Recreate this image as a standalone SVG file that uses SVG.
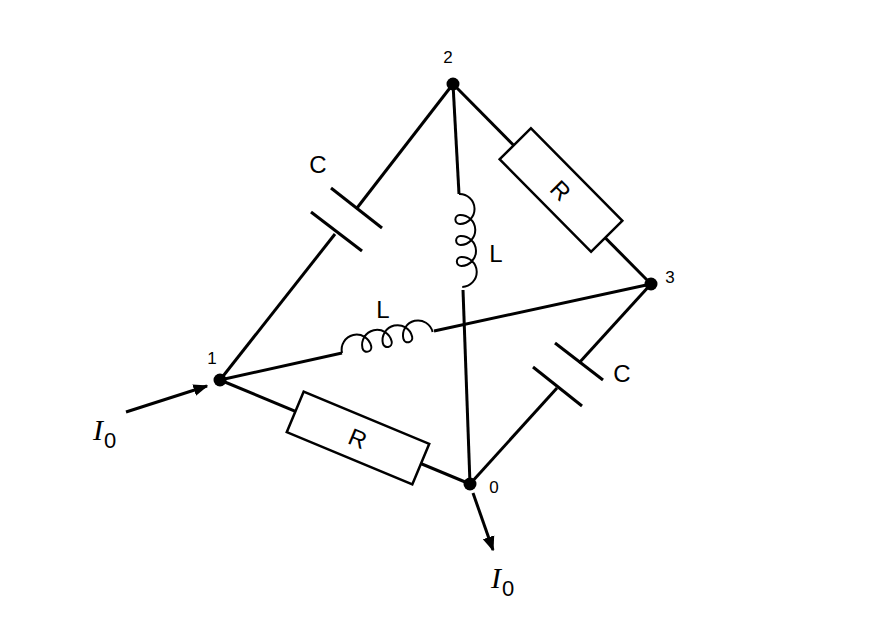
<svg xmlns="http://www.w3.org/2000/svg" width="873" height="626" viewBox="0 0 873 626">
<defs>
<style>
.w{stroke:#000;stroke-width:3;fill:none;stroke-linecap:butt}
.c{stroke:#000;stroke-width:2;fill:none}
.r{stroke:#000;stroke-width:2.5;fill:#fff}
.t{font-family:"Liberation Sans",Arial,sans-serif;fill:#000}
.i{font-family:"Liberation Serif","DejaVu Serif",serif;font-style:italic;fill:#000;font-size:30px}
</style>
<marker id="ah" viewBox="0 0 10 10" refX="9" refY="5" markerWidth="5" markerHeight="5" orient="auto" markerUnits="strokeWidth"><path d="M0,1 L10,5 L0,9 z" fill="#000"/></marker>
<path id="coil" d="M0,0 A15,15 0 0 1 30,0 A4.5,4.5 0 0 1 21,0 A15,15 0 0 1 51,0 A4.5,4.5 0 0 1 42,0 A15,15 0 0 1 72,0 A4.5,4.5 0 0 1 63,0 A15,15 0 0 1 93,0"/>
</defs>
<rect width="873" height="626" fill="#fff"/>
<g id="connectors">
<line class="w" x1="220" y1="380" x2="335" y2="234"/>
<line class="w" x1="357" y1="208" x2="453" y2="84"/>
<line class="w" x1="453" y1="84" x2="459" y2="194"/>
<line class="w" x1="463" y1="290" x2="470" y2="484"/>
<line class="w" x1="220" y1="380" x2="342" y2="353"/>
<line class="w" x1="434" y1="331" x2="651" y2="284"/>
<line class="w" x1="453" y1="84" x2="651" y2="284"/>
<line class="w" x1="651" y1="284" x2="579" y2="363"/>
<line class="w" x1="557" y1="388" x2="470" y2="484"/>
<line class="w" x1="220" y1="380" x2="470" y2="484"/>
<line class="w" x1="126" y1="412" x2="207" y2="386" marker-end="url(#ah)"/>
<line class="w" x1="473" y1="493" x2="493" y2="550" marker-end="url(#ah)"/>
</g>
<g id="C12">
<line class="w" x1="331" y1="188" x2="382" y2="228"/>
<line class="w" x1="311" y1="212" x2="362" y2="251"/>
<text class="t" x="318" y="173" font-size="24" text-anchor="middle">C</text>
</g>
<g id="L20">
<use href="#coil" class="c" transform="translate(459,194) rotate(88)"/>
<text class="t" x="496" y="262" font-size="24" text-anchor="middle">L</text>
</g>
<g id="L13">
<use href="#coil" class="c" transform="translate(342,353) rotate(-13)"/>
<text class="t" x="383" y="318" font-size="24" text-anchor="middle">L</text>
</g>
<g id="R23">
<rect class="r" x="-65" y="-22" width="130" height="44" transform="translate(561,190) rotate(45.3)"/>
<text class="t" font-size="24" text-anchor="middle" transform="translate(561,190) rotate(45.3)" y="9">R</text>
</g>
<g id="R10">
<rect class="r" x="-68" y="-22" width="136" height="44" transform="translate(358,438) rotate(22.6)"/>
<text class="t" font-size="24" text-anchor="middle" transform="translate(358,438) rotate(22.6)" y="9">R</text>
</g>
<g id="C30">
<line class="w" x1="555" y1="343" x2="603" y2="380"/>
<line class="w" x1="533" y1="367" x2="582" y2="406"/>
<text class="t" x="622" y="382" font-size="24" text-anchor="middle">C</text>
</g>
<g id="n1"><circle cx="220" cy="380" r="6.5"/><text class="t" x="212" y="364" font-size="17" text-anchor="middle">1</text></g>
<g id="n2"><circle cx="453" cy="84" r="6.5"/><text class="t" x="448" y="63" font-size="17" text-anchor="middle">2</text></g>
<g id="n3"><circle cx="651" cy="284" r="6.5"/><text class="t" x="670" y="283" font-size="17" text-anchor="middle">3</text></g>
<g id="n0"><circle cx="470" cy="484" r="6.5"/><text class="t" x="494" y="493" font-size="17" text-anchor="middle">0</text></g>
<g id="labels">
<text class="i" x="93" y="440">I</text><text class="t" x="104" y="448" font-size="22">0</text>
<text class="i" x="491" y="588">I</text><text class="t" x="502" y="596" font-size="22">0</text>
</g>
</svg>
